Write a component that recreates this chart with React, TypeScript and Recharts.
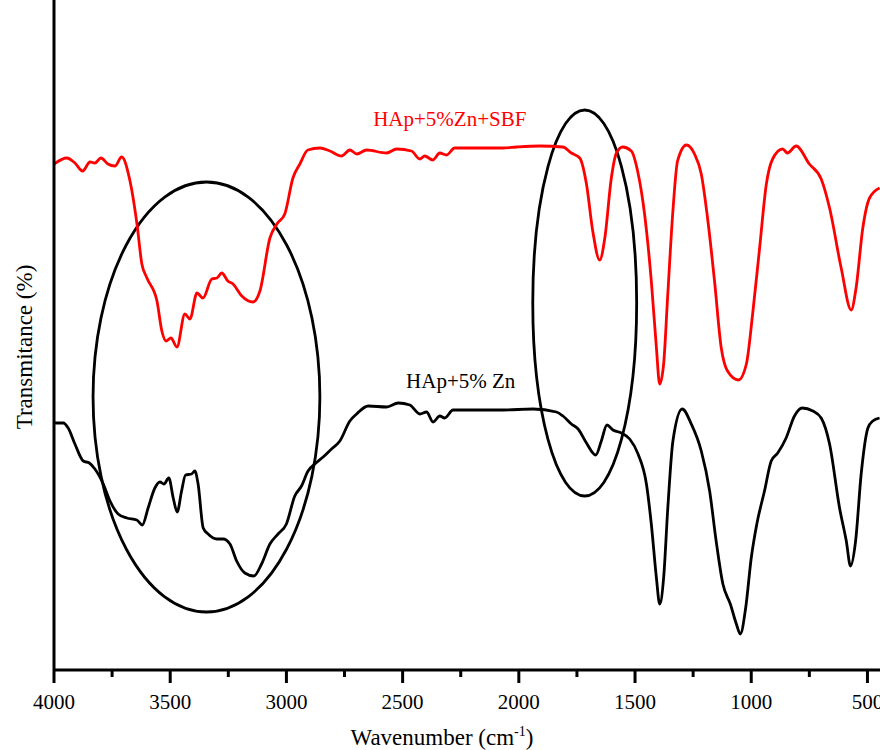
import { LineChart, Line, XAxis, YAxis, ReferenceArea, ReferenceDot } from 'recharts';

// FTIR spectra, wavenumber (cm-1) vs transmittance (arbitrary units)
const sbfWavenumbers = [
    4000, 3945, 3910, 3877, 3845, 3824, 3798, 3768, 3738, 3709, 3673, 3643, 3622, 3600, 3557, 3536, 3518, 3497,
    3471, 3437, 3415, 3385, 3359, 3321, 3299, 3278, 3252, 3230, 3192, 3144, 3114, 3071, 3041, 3007, 2972, 2942,
    2908, 2856, 2813, 2763, 2727, 2697, 2655, 2569, 2526, 2462, 2426, 2405, 2370, 2340, 2311, 2276, 2069, 2010,
    1910, 1811, 1774, 1738, 1709, 1682, 1652, 1630, 1602, 1580, 1553, 1516, 1489, 1459, 1430, 1408, 1394, 1377,
    1360, 1338, 1317, 1279, 1244, 1215, 1188, 1158, 1129, 1102, 1055, 1021, 994, 964, 935, 908, 865, 844, 807,
    750, 699, 663, 613, 570, 549, 520, 491, 448,
];
const sbfTransmittance = [
    50.6, 51.2, 50.7, 49.9, 50.8, 50.7, 51.2, 50.6, 50.4, 51.3, 48.9, 44.6, 40.6, 39.2, 36.9, 33.9, 32.9, 33.2,
    32.3, 35.6, 35.1, 37.7, 37.2, 39.1, 39.2, 39.7, 38.9, 38.6, 37.4, 36.8, 37.9, 43.2, 44.6, 45.6, 49.2, 50.6,
    52.0, 52.2, 51.9, 51.4, 52.0, 51.6, 52.0, 51.7, 52.1, 51.9, 51.1, 51.4, 51.0, 51.7, 51.5, 52.2, 52.2, 52.3,
    52.4, 52.3, 51.7, 51.2, 48.6, 43.9, 41.0, 43.2, 49.2, 51.7, 52.3, 51.9, 49.9, 45.6, 38.9, 32.2, 28.6, 30.6,
    37.2, 45.6, 50.9, 52.5, 51.6, 49.6, 45.2, 38.9, 32.2, 29.9, 29.0, 30.6, 35.6, 42.2, 48.6, 51.1, 52.1, 51.7, 52.4,
    50.6, 49.1, 46.2, 40.2, 36.0, 38.2, 44.2, 47.2, 48.2,
];

const znWavenumbers = [
    4000, 3960, 3939, 3910, 3874, 3848, 3824, 3788, 3759, 3724, 3687, 3644, 3620, 3595, 3566, 3544, 3527, 3506,
    3487, 3470, 3451, 3434, 3408, 3394, 3380, 3358, 3337, 3300, 3272, 3243, 3214, 3179, 3140, 3107, 3071, 3036,
    3000, 2964, 2935, 2907, 2878, 2842, 2806, 2770, 2727, 2698, 2648, 2569, 2519, 2469, 2426, 2397, 2369, 2340,
    2319, 2283, 2069, 1939, 1838, 1810, 1774, 1745, 1709, 1669, 1645, 1621, 1595, 1559, 1523, 1487, 1451, 1430,
    1408, 1394, 1377, 1359, 1337, 1297, 1258, 1215, 1179, 1151, 1122, 1090, 1064, 1047, 1024, 1000, 976, 943,
    914, 886, 850, 814, 781, 735, 699, 663, 620, 591, 573, 551, 527, 498, 477, 448,
];
const znTransmittance = [
    24.7, 24.7, 24.2, 22.6, 20.9, 20.7, 20.1, 18.6, 16.9, 15.6, 15.2, 15.0, 14.5, 16.2, 18.2, 18.8, 18.6, 19.2,
    17.2, 15.8, 17.9, 19.5, 19.6, 19.9, 18.6, 14.2, 13.6, 13.1, 13.1, 12.6, 10.9, 9.7, 9.4, 10.6, 12.6, 13.6,
    14.6, 17.4, 18.4, 19.9, 20.6, 21.3, 22.1, 22.9, 24.9, 25.6, 26.4, 26.3, 26.7, 26.5, 25.6, 25.8, 24.8, 25.4,
    25.2, 26.0, 26.0, 26.1, 25.8, 25.4, 24.6, 24.1, 22.7, 21.5, 22.9, 24.5, 24.0, 23.7, 23.1, 21.6, 18.6, 14.6,
    9.2, 6.6, 9.2, 16.2, 22.9, 26.1, 24.6, 21.9, 17.9, 12.9, 8.6, 6.6, 4.6, 3.6, 6.2, 11.2, 14.6, 17.9,
    20.9, 21.7, 23.2, 25.4, 26.2, 25.9, 25.2, 22.6, 16.2, 12.9, 10.4, 12.9, 19.6, 24.2, 24.9, 25.2,
];

const xTicks = [4000, 3750, 3500, 3250, 3000, 2750, 2500, 2250, 2000, 1750, 1500, 1250, 1000, 750, 500];

const sbfData = sbfWavenumbers.map((wn, i) => ({ wn, t: sbfTransmittance[i] }));
const znData = znWavenumbers.map((wn, i) => ({ wn, t: znTransmittance[i] }));

const font = "'Liberation Serif', 'Times New Roman', serif";

const WaveTick = (props: any) => {
    const { x, y, payload } = props;
    const major = payload.value % 500 === 0;
    return (
        <g>
            <line x1={x} y1={y} x2={x} y2={y + (major ? 13 : 7)} stroke="#000" strokeWidth={3} />
            {major && (
                <text x={x} y={y + 39} textAnchor="middle" fill="#000" style={{ fontFamily: font, fontSize: 21 }}>
                    {payload.value}
                </text>
            )}
        </g>
    );
};

const EllipseShape = (props: any) => {
    const { x, y, width, height } = props;
    const w = Math.abs(width);
    const h = Math.abs(height);
    const left = width < 0 ? x + width : x;
    const top = height < 0 ? y + height : y;
    return <ellipse cx={left + w / 2} cy={top + h / 2} rx={w / 2} ry={h / 2} fill="none" stroke="#000" strokeWidth={2.8} />;
};

const XTitle = () => (
    <text x={442} y={745} textAnchor="middle" fill="#000" style={{ fontFamily: font, fontSize: 23 }}>
        <tspan>Wavenumber (cm</tspan>
        <tspan dy={-9} style={{ fontSize: 14 }}>-1</tspan>
        <tspan dy={9}>)</tspan>
    </text>
);

const YTitle = () => (
    <text
        x={24}
        y={347}
        transform="rotate(-90, 24, 347)"
        textAnchor="middle"
        dominantBaseline="central"
        fill="#000"
        style={{ fontFamily: font, fontSize: 23 }}
    >
        Transmitance (%)
    </text>
);

const App = () => {
    return (
        <div style={{ position: 'absolute', left: 0, top: 0, background: '#fff', fontFamily: font }}>
            <LineChart width={880} height={750} margin={{ top: 0, right: 0, bottom: 0, left: 0 }} style={{ fontFamily: font }}>
                <XAxis
                    type="number"
                    dataKey="wn"
                    domain={[446, 4000]}
                    reversed
                    ticks={xTicks}
                    tick={<WaveTick />}
                    tickLine={false}
                    tickSize={0}
                    tickMargin={0}
                    height={80}
                    axisLine={{ stroke: '#000', strokeWidth: 3 }}
                    allowDataOverflow
                    label={<XTitle />}
                />
                <YAxis
                    type="number"
                    domain={[0, 67]}
                    width={54}
                    tick={false}
                    tickLine={false}
                    axisLine={{ stroke: '#000', strokeWidth: 3 }}
                    label={<YTitle />}
                />
                <ReferenceArea x1={3832} x2={2856} y1={5.8} y2={48.8} shape={<EllipseShape />} />
                <ReferenceArea x1={1940} x2={1493} y1={17.4} y2={56} shape={<EllipseShape />} />
                <Line data={sbfData} dataKey="t" type="monotone" stroke="#ff0000" strokeWidth={2.8} dot={false} isAnimationActive={false} />
                <Line data={znData} dataKey="t" type="monotone" stroke="#000" strokeWidth={2.8} dot={false} isAnimationActive={false} />
                <ReferenceDot
                    x={2297}
                    y={55.1}
                    r={1}
                    fill="none"
                    stroke="none"
                    label={{ value: 'HAp+5%Zn+SBF', position: 'center', fill: '#ff0000', fontSize: 21, style: { fontFamily: font } }}
                />
                <ReferenceDot
                    x={2250}
                    y={28.9}
                    r={1}
                    fill="none"
                    stroke="none"
                    label={{ value: 'HAp+5% Zn', position: 'center', fill: '#000', fontSize: 21, style: { fontFamily: font } }}
                />
            </LineChart>
        </div>
    );
};

export default App;
